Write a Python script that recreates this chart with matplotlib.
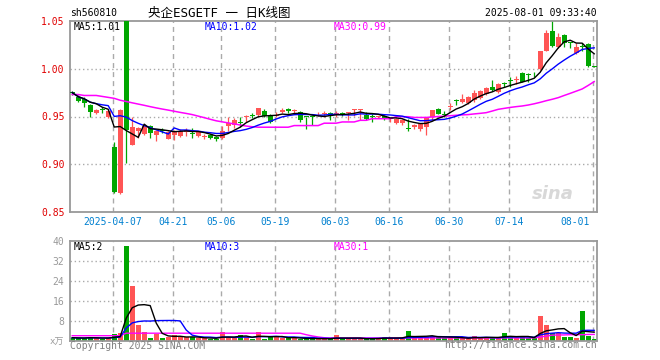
import matplotlib
matplotlib.use('Agg')
import matplotlib.pyplot as plt
import matplotlib.transforms as mtransforms
import numpy as np
import pandas as pd

# =============================================================================
# data (one entry per trading day, 2025-03-26 .. 2025-08-01)
# =============================================================================
opens = [0.9755, 0.970, 0.9685, 0.9625, 0.9535, 0.957, 0.950, 0.9186, 0.870, 1.070,
         0.9207, 0.9345, 0.932, 0.940, 0.931, 0.9355, 0.9266, 0.931, 0.930, 0.9336,
         0.933, 0.930, 0.9285, 0.931, 0.929, 0.927, 0.940, 0.9414, 0.9445, 0.9495,
         0.9515, 0.952, 0.956, 0.9514, 0.951, 0.9549, 0.958, 0.9556, 0.955, 0.950,
         0.9507, 0.951, 0.9525, 0.954, 0.953, 0.954, 0.9534, 0.9566, 0.9566, 0.952,
         0.9507, 0.9495, 0.9507, 0.947, 0.9437, 0.9427, 0.9378, 0.9385, 0.9374, 0.939,
         0.9497, 0.9577, 0.9525, 0.960, 0.967, 0.965, 0.9637, 0.967, 0.969, 0.974,
         0.981, 0.976, 0.9847, 0.9875, 0.988, 0.9958, 0.9935, 0.9955, 0.9993, 1.0185,
         1.0394, 1.023, 1.035, 1.0275, 1.016, 1.0235, 1.026, 1.0025]
highs = [0.977, 0.972, 0.970, 0.963, 0.958, 0.9595, 0.957, 0.923, 0.958, 1.070,
         0.949, 0.939, 0.942, 0.941, 0.936, 0.938, 0.935, 0.936, 0.937, 0.938,
         0.938, 0.935, 0.932, 0.932, 0.930, 0.940, 0.949, 0.948, 0.949, 0.952,
         0.954, 0.959, 0.958, 0.953, 0.955, 0.959, 0.959, 0.958, 0.956, 0.950,
         0.951, 0.955, 0.956, 0.955, 0.9555, 0.9545, 0.955, 0.958, 0.958, 0.955,
         0.953, 0.951, 0.952, 0.9486, 0.948, 0.947, 0.947, 0.942, 0.943, 0.949,
         0.957, 0.959, 0.956, 0.9637, 0.9686, 0.974, 0.971, 0.9777, 0.978, 0.981,
         0.988, 0.985, 0.9864, 0.991, 0.992, 0.997, 0.996, 0.997, 1.019, 1.0405,
         1.055, 1.037, 1.036, 1.028, 1.0265, 1.0265, 1.027, 1.003]
lows = [0.973, 0.965, 0.960, 0.949, 0.953, 0.954, 0.948, 0.870, 0.869, 0.901,
        0.920, 0.927, 0.931, 0.928, 0.924, 0.933, 0.926, 0.925, 0.929, 0.930,
        0.927, 0.929, 0.926, 0.926, 0.924, 0.926, 0.935, 0.938, 0.939, 0.9445,
        0.948, 0.951, 0.9497, 0.9427, 0.950, 0.954, 0.954, 0.953, 0.9444, 0.9374,
        0.941, 0.9505, 0.950, 0.946, 0.9497, 0.951, 0.946, 0.951, 0.946, 0.946,
        0.944, 0.948, 0.946, 0.9444, 0.942, 0.941, 0.935, 0.937, 0.9346, 0.9305,
        0.946, 0.9526, 0.9495, 0.9567, 0.962, 0.9637, 0.963, 0.9655, 0.968, 0.972,
        0.977, 0.975, 0.981, 0.981, 0.984, 0.986, 0.986, 0.9916, 0.9986, 1.018,
        1.023, 1.022, 1.023, 1.022, 1.015, 1.019, 1.002, 1.002]
closes = [0.975, 0.9665, 0.964, 0.9545, 0.957, 0.9565, 0.956, 0.871, 0.957, 0.936,
          0.9388, 0.938, 0.940, 0.933, 0.9345, 0.935, 0.9336, 0.9345, 0.935, 0.9364,
          0.932, 0.9336, 0.929, 0.927, 0.9266, 0.935, 0.9435, 0.946, 0.943, 0.950,
          0.951, 0.9584, 0.9507, 0.9444, 0.952, 0.957, 0.956, 0.956, 0.946, 0.9495,
          0.950, 0.9515, 0.953, 0.9507, 0.9535, 0.9514, 0.954, 0.957, 0.9575, 0.947,
          0.950, 0.950, 0.948, 0.9475, 0.947, 0.946, 0.9374, 0.941, 0.9417, 0.948,
          0.9566, 0.953, 0.952, 0.961, 0.9665, 0.9686, 0.970, 0.975, 0.9766, 0.9794,
          0.9777, 0.984, 0.984, 0.987, 0.9885, 0.9864, 0.993, 0.995, 1.0185, 1.0377,
          1.0237, 1.0335, 1.027, 1.027, 1.023, 1.023, 1.003, 1.002]
# volume in units of 10k (万)
volumes = [1.2, 1.0, 1.0, 1.5, 1.0, 0.8, 1.0, 2.5, 3.0, 37.7,
           21.7, 6.4, 3.3, 1.1, 2.8, 1.1, 1.3, 2.4, 1.3, 1.3,
           1.3, 1.0, 1.0, 0.8, 0.8, 3.4, 1.3, 1.0, 2.4, 1.3,
           0.8, 3.4, 0.8, 1.6, 1.6, 1.0, 1.0, 1.0, 0.8, 0.8,
           0.8, 0.8, 0.7, 0.8, 2.1, 0.8, 0.8, 0.8, 0.8, 0.8,
           0.8, 1.0, 1.6, 1.0, 1.0, 1.0, 4.0, 1.3, 1.3, 1.3,
           2.0, 2.0, 1.0, 1.0, 1.0, 1.0, 1.0, 2.0, 1.0, 1.6,
           1.0, 1.0, 3.2, 2.0, 1.0, 1.3, 1.0, 1.0, 10.0, 6.4,
           3.1, 3.1, 1.6, 1.6, 0.9, 12.0, 2.0, 0.6]
# 30-day averages as drawn (they include days before the visible window)
ma30_price = [0.973, 0.973, 0.972, 0.972, 0.972, 0.971, 0.970, 0.969, 0.967, 0.9657,
              0.9643, 0.963, 0.9617, 0.9603, 0.959, 0.9578, 0.9567, 0.9555, 0.9543, 0.9532,
              0.952, 0.9504, 0.9488, 0.9471, 0.9455, 0.9444, 0.9433, 0.9422, 0.9411, 0.940,
              0.9393, 0.9388, 0.9388, 0.9388, 0.9388, 0.9388, 0.9388, 0.9405, 0.9405, 0.9405,
              0.9405, 0.9405, 0.943, 0.943, 0.943, 0.9443, 0.9443, 0.9443, 0.946, 0.946,
              0.9477, 0.9477, 0.9477, 0.9477, 0.9498, 0.9498, 0.9498, 0.949, 0.949, 0.949,
              0.9495, 0.950, 0.9503, 0.9508, 0.9513, 0.9517, 0.952, 0.9527, 0.9533, 0.954,
              0.9557, 0.9575, 0.9585, 0.9595, 0.9603, 0.961, 0.962, 0.9633, 0.9648, 0.9665,
              0.968, 0.9697, 0.972, 0.9742, 0.9765, 0.9788, 0.9825, 0.9865]
ma30_vol = [2.0, 2.0, 2.0, 2.0, 2.0, 2.0, 2.0, 2.0, 2.0, 3.0,
            3.0, 3.0, 3.0, 3.0, 3.0, 3.0, 3.0, 3.0, 3.0, 3.0,
            3.0, 3.0, 3.0, 3.0, 3.0, 3.0, 3.0, 3.0, 3.0, 3.0,
            3.0, 3.0, 3.0, 3.0, 3.0, 3.0, 3.0, 3.0, 3.0, 2.4,
            1.9, 1.5, 1.2, 1.1, 1.1, 1.1, 1.1, 1.1, 1.1, 1.1,
            1.1, 1.1, 1.1, 1.1, 1.1, 1.1, 1.1, 1.1, 1.1, 1.1,
            1.1, 1.1, 1.1, 1.1, 1.1, 1.1, 1.1, 1.1, 1.1, 1.1,
            1.1, 1.1, 1.1, 1.1, 1.1, 1.1, 1.1, 1.1, 1.5, 1.8,
            2.2, 2.3, 2.3, 2.4, 2.4, 2.4, 2.5, 2.5]

date_ticks = [7, 17, 25, 34, 44, 53, 63, 73, 87]
date_labels = ['2025-04-07', '04-21', '05-06', '05-19', '06-03',
               '06-16', '06-30', '07-14', '08-01']
price_ticks = [0.85, 0.90, 0.95, 1.00, 1.05]
vol_ticks = [8, 16, 24, 32, 40]

# =============================================================================
# styling
# =============================================================================
RED = '#ff5555'
GREEN = '#00a600'
GRID = '#aaaaaa'
FRAME = '#999999'
DATE_BLUE = '#0080d0'
plt.rcParams['font.family'] = ['DejaVu Sans Mono', 'Noto Sans CJK SC']

W, H = 660, 360
def fx(px):
    return px / W
def fy(py):
    return 1 - py / H

fig = plt.figure(figsize=(6.6, 3.6), dpi=100)
fig.patch.set_facecolor('white')
ax = fig.add_axes([fx(70), fy(212.1), fx(597) - fx(70), fy(20.9) - fy(212.1)])
axv = fig.add_axes([fx(70), fy(340.7), fx(597) - fx(70), fy(240.7) - fy(340.7)])

x = np.arange(len(closes))
o = np.array(opens)
c = np.array(closes)
colors = [RED if cc > oo else GREEN for oo, cc in zip(o, c)]

# --- grid ---
for a in (ax, axv):
    for d in date_ticks:
        a.axvline(d - 0.2, color=GRID, lw=1.0, linestyle=(0, (3.6, 2.9)), zorder=0)
for p in price_ticks[1:-1]:
    ax.axhline(p, color=GRID, lw=1.0, linestyle=(0, (1, 2)), zorder=0)
for v in vol_ticks[:-1]:
    axv.axhline(v, color=GRID, lw=1.0, linestyle=(0, (1, 2)), zorder=0)

# --- price panel ---
ax.vlines(x, lows, highs, colors=colors, lw=0.9, zorder=2)
body = np.maximum(np.abs(c - o), 0.001)
ax.bar(x, body, bottom=np.minimum(o, c), width=0.82, color=colors, linewidth=0, zorder=3)

ma5 = pd.Series(closes).rolling(5, min_periods=1).mean()
ma10 = pd.Series(closes).rolling(10, min_periods=1).mean()
ax.plot(x, ma30_price, color='#ff00ff', lw=1.1, zorder=4)
ax.plot(x, ma10, color='#0000ff', lw=1.0, zorder=4)
ax.plot(x, ma5, color='black', lw=1.0, zorder=5)

ax.set_xlim(-0.37, 87.47)
ax.set_ylim(0.85, 1.05)
ax.set_yticks(price_ticks)
ax.set_yticklabels(['%.2f' % p for p in price_ticks])
ax.tick_params(axis='y', length=0, pad=4, labelcolor='#e00000', labelsize=7)
ax.set_xticks([])

# date labels under the price panel
lbl_tr = mtransforms.blended_transform_factory(ax.transData, ax.transAxes)
for d, lab in zip(date_ticks, date_labels):
    if d == date_ticks[-1]:
        tr = mtransforms.offset_copy(lbl_tr, fig=fig, x=-3, y=0, units='dots')
        ax.text(d - 0.2, -0.05, lab, transform=tr, ha='right', va='center',
                color=DATE_BLUE, fontsize=7)
    else:
        ax.text(d - 0.2, -0.05, lab, transform=lbl_tr, ha='center', va='center',
                color=DATE_BLUE, fontsize=7)

# sina watermark
ax.text(0.955, 0.045, 'sina', transform=ax.transAxes, ha='right', va='bottom',
        color='#d8d8d8', fontsize=13, fontweight='bold', style='italic',
        family='DejaVu Sans', zorder=1)

# --- volume panel ---
axv.bar(x, volumes, width=0.82, color=colors, linewidth=0, zorder=2)
vma5 = pd.Series(volumes).rolling(5, min_periods=1).mean()
vma10 = pd.Series(volumes).rolling(10, min_periods=1).mean()
axv.plot(x, ma30_vol, color='#ff00ff', lw=1.0, zorder=4)
axv.plot(x, vma10, color='#0000ff', lw=1.0, zorder=4)
axv.plot(x, vma5, color='black', lw=1.0, zorder=5)
axv.set_xlim(-0.37, 87.47)
axv.set_ylim(0, 40)
axv.set_yticks(vol_ticks)
axv.set_yticklabels([str(v) for v in vol_ticks])
axv.tick_params(axis='y', length=0, pad=4, labelcolor=FRAME, labelsize=7)
axv.set_xticks([])

for a in (ax, axv):
    for s in a.spines.values():
        s.set_color(FRAME)
        s.set_linewidth(1.3)

# =============================================================================
# texts
# =============================================================================
fig.text(fx(70), fy(13), 'sh560810', ha='left', va='center', fontsize=7, color='black')
fig.text(fx(219), fy(13), '央企ESGETF 一 日K线图', ha='center', va='center',
         fontsize=9, color='black')
fig.text(fx(597), fy(13), '2025-08-01 09:33:40', ha='right', va='center',
         fontsize=7, color='black')

fig.text(fx(74), fy(27), 'MA5:1.01', ha='left', va='center', fontsize=7, color='black')
fig.text(fx(205), fy(27), 'MA10:1.02', ha='left', va='center', fontsize=7, color='#0000ff')
fig.text(fx(334), fy(27), 'MA30:0.99', ha='left', va='center', fontsize=7, color='#ff00ff')

fig.text(fx(74), fy(247), 'MA5:2', ha='left', va='center', fontsize=7, color='black')
fig.text(fx(205), fy(247), 'MA10:3', ha='left', va='center', fontsize=7, color='#0000ff')
fig.text(fx(334), fy(247), 'MA30:1', ha='left', va='center', fontsize=7, color='#ff00ff')

fig.text(fx(64), fy(342), 'x万', ha='right', va='center', fontsize=6.5, color=FRAME)
fig.text(fx(70), fy(346), 'Copyright 2025 SINA.COM', ha='left', va='center',
         fontsize=7, color='#808080')
fig.text(fx(597), fy(345), 'http://finance.sina.com.cn', ha='right', va='center',
         fontsize=7, color='#808080')

fig.savefig('out.png', dpi=100, facecolor='white')
